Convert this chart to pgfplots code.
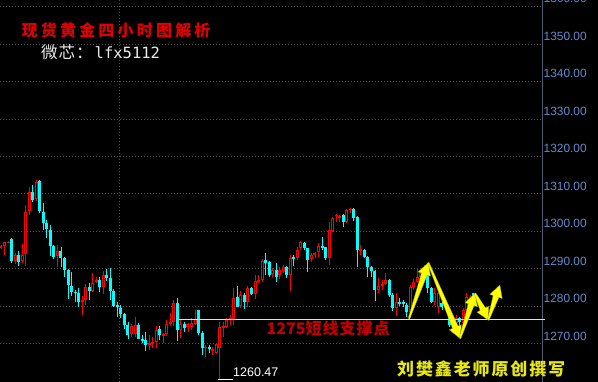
\documentclass[border=0pt]{standalone}
\usepackage{fontspec}
\setmainfont{Liberation Sans}
\newfontfamily\cjktitle{Noto Sans CJK SC}[LetterSpace=20]
\newfontfamily\cjkwx{Noto Sans CJK SC}[LetterSpace=6]
\newfontfamily\cjkauth{Noto Sans CJK SC}[LetterSpace=11]
\newfontfamily\cjksupp{Noto Sans CJK SC}[LetterSpace=6]
\newfontfamily\cjkdig{Noto Sans CJK SC}
\newfontfamily\monofont{DejaVu Sans Mono}
\usepackage{pgfplots}
\pgfplotsset{compat=1.18}
\usepackage{pgfplotstable}
\usetikzlibrary{calc}

\definecolor{upred}{RGB}{255,0,0}
\definecolor{dncyan}{RGB}{0,255,255}
\definecolor{gridgray}{RGB}{85,85,85}
\definecolor{ticklab}{RGB}{100,140,205}
\definecolor{titlered}{RGB}{225,0,0}
\definecolor{suppred}{RGB}{195,0,0}
\definecolor{ayellow}{RGB}{255,255,0}
\definecolor{authyellow}{RGB}{232,232,20}
\definecolor{axisgray}{RGB}{85,92,108}

\newcommand{\tarrow}[2]{%
  \coordinate (hh) at ($(#2)!12bp!(#1)$);
  \filldraw[fill=ayellow, draw=ayellow!65!black, line width=0.3bp]
    ($(#1)!0.8bp!90:(#2)$) -- ($(hh)!3bp!-90:(#1)$) -- ($(hh)!6.5bp!-90:(#1)$) -- (#2)
    -- ($(hh)!6.5bp!90:(#1)$) -- ($(hh)!3bp!90:(#1)$) -- ($(#1)!0.8bp!-90:(#2)$) -- cycle;}

% bullish (red) candles: index, open, high, low, close
\pgfplotstableread{
i o h l c
0 1295.6 1296.3 1295.4 1296.1
1 1296.2 1297.2 1293.7 1297.1
2 1297.0 1297.5 1296.8 1297.2
4 1292.2 1294.3 1291.2 1293.6
6 1292.2 1296.6 1291.5 1293.6
7 1293.9 1307.0 1290.8 1305.1
8 1305.3 1311.7 1304.4 1310.4
10 1308.6 1313.7 1308.2 1313.2
16 1293.5 1296.3 1290.6 1294.8
23 1281.2 1282.7 1277.7 1281.7
24 1281.7 1285.9 1280.3 1285.1
26 1284.2 1288.9 1283.9 1286.1
27 1286.6 1287.9 1286.1 1287.0
29 1285.2 1289.4 1283.3 1288.3
37 1272.6 1275.3 1271.9 1274.7
38 1272.6 1277.2 1271.9 1275.0
42 1269.8 1272.3 1268.3 1270.1
43 1270.1 1271.9 1268.8 1270.5
44 1270.5 1274.7 1268.9 1273.8
46 1272.3 1272.8 1270.1 1272.6
47 1272.6 1276.3 1272.1 1275.3
48 1275.4 1278.1 1274.6 1275.9
49 1275.9 1281.7 1274.7 1281.0
51 1273.7 1276.6 1271.4 1275.3
53 1274.6 1275.6 1273.2 1275.2
54 1274.6 1276.8 1273.7 1275.6
55 1275.4 1279.0 1275.0 1276.6
58 1268.8 1269.7 1266.5 1269.2
60 1268.1 1269.1 1267.0 1268.6
61 1267.4 1270.3 1267.3 1269.9
62 1268.8 1275.9 1260.47 1274.4
63 1274.4 1275.9 1271.9 1274.7
64 1274.5 1276.9 1274.2 1276.3
65 1276.3 1277.7 1275.0 1276.8
66 1276.5 1284.8 1275.0 1282.1
68 1280.1 1284.2 1279.5 1283.0
70 1281.2 1285.4 1279.9 1284.8
72 1283.3 1288.3 1281.9 1286.7
73 1286.7 1288.3 1286.1 1287.0
74 1287.0 1292.5 1286.6 1292.1
77 1288.5 1290.1 1287.7 1289.7
79 1288.3 1290.6 1287.2 1289.7
80 1289.4 1291.0 1288.8 1290.4
82 1288.3 1293.7 1284.2 1292.8
84 1293.0 1295.9 1292.3 1295.0
85 1295.5 1297.4 1295.0 1297.2
88 1292.6 1294.1 1291.9 1293.7
89 1293.7 1294.6 1292.8 1294.1
90 1294.6 1296.8 1293.2 1296.2
93 1292.8 1302.6 1291.0 1300.4
94 1300.1 1303.9 1299.9 1303.6
95 1304.1 1304.6 1302.6 1304.4
96 1303.7 1304.4 1302.6 1304.2
98 1302.6 1306.0 1302.1 1305.7
99 1305.7 1306.2 1304.8 1306.0
102 1294.9 1296.4 1293.7 1295.2
107 1284.3 1287.5 1283.5 1285.4
108 1285.5 1287.0 1284.3 1285.9
109 1285.9 1288.8 1285.7 1287.0
112 1279.5 1283.5 1277.4 1281.2
116 1278.5 1285.7 1276.8 1285.2
117 1285.2 1287.2 1284.3 1286.6
118 1286.6 1290.1 1286.1 1287.9
119 1287.9 1289.7 1287.0 1288.8
120 1288.8 1291.0 1288.3 1289.9
123 1281.2 1284.8 1280.3 1283.5
124 1279.9 1284.1 1278.1 1283.6
129 1275.5 1277.7 1274.1 1276.8
131 1275.5 1279.5 1275.0 1279.0
132 1279.0 1283.5 1278.5 1282.6
133 1281.9 1283.0 1281.7 1282.6
}\uptab

% bearish (cyan) candles: index, open, high, low, close
\pgfplotstableread{
i o h l c
3 1298.0 1298.2 1291.5 1292.2
5 1293.6 1294.8 1290.8 1291.9
9 1310.4 1312.4 1307.7 1308.4
11 1313.4 1313.6 1305.0 1305.4
12 1305.2 1307.5 1300.4 1302.3
13 1302.3 1303.0 1298.3 1300.6
14 1300.4 1301.7 1293.4 1296.1
15 1296.1 1296.3 1292.7 1293.2
17 1294.8 1295.7 1290.6 1293.0
18 1292.8 1293.1 1287.9 1289.7
19 1289.7 1289.9 1282.0 1285.7
20 1285.4 1289.1 1282.8 1283.9
21 1283.9 1284.3 1281.2 1283.6
22 1283.5 1284.9 1279.9 1281.2
25 1285.1 1286.1 1281.7 1284.2
28 1287.0 1287.7 1283.9 1285.2
30 1288.3 1290.0 1286.7 1287.6
31 1287.5 1290.3 1281.7 1284.2
32 1284.2 1284.6 1279.9 1280.1
33 1280.3 1281.2 1277.2 1279.9
34 1279.6 1280.3 1276.8 1277.9
35 1277.9 1278.1 1273.8 1275.0
36 1275.0 1275.9 1271.2 1272.3
39 1275.0 1275.4 1271.2 1271.3
40 1271.2 1272.3 1270.1 1270.8
41 1271.0 1273.0 1268.1 1269.7
45 1273.8 1274.7 1271.0 1272.2
50 1281.0 1282.1 1270.7 1273.7
52 1275.3 1275.9 1273.2 1274.1
56 1279.0 1279.1 1272.3 1272.8
57 1272.9 1273.4 1267.0 1268.8
59 1269.2 1269.7 1267.5 1268.6
67 1282.6 1285.4 1279.8 1279.9
69 1283.0 1283.5 1279.3 1281.2
71 1284.8 1285.2 1283.0 1283.3
75 1292.3 1294.3 1288.3 1291.6
76 1291.9 1292.2 1287.9 1288.3
78 1289.7 1291.6 1286.4 1287.7
81 1290.4 1290.7 1287.5 1288.3
83 1293.2 1293.7 1290.8 1292.8
86 1297.0 1297.2 1295.0 1295.5
87 1295.5 1295.6 1289.2 1292.3
91 1296.1 1298.6 1295.0 1295.6
92 1295.7 1295.9 1292.3 1292.8
97 1304.4 1304.6 1301.2 1302.6
100 1306.0 1306.2 1302.8 1303.5
101 1303.9 1304.1 1290.6 1295.0
103 1295.0 1295.2 1292.8 1293.2
104 1293.2 1293.4 1287.9 1290.6
105 1290.6 1290.7 1287.9 1289.4
106 1289.4 1289.6 1281.4 1284.3
110 1287.0 1287.2 1282.6 1283.0
111 1283.0 1283.5 1278.8 1279.5
113 1281.2 1282.1 1280.1 1280.8
114 1281.2 1281.7 1279.9 1280.8
115 1280.3 1280.8 1277.2 1278.5
121 1288.3 1288.8 1283.5 1284.8
122 1284.8 1285.2 1280.8 1281.2
125 1280.8 1281.7 1279.0 1279.9
126 1280.3 1280.9 1279.0 1279.7
127 1279.0 1279.5 1274.4 1275.0
128 1277.2 1277.7 1274.2 1275.5
130 1276.8 1277.2 1275.0 1275.9
134 1283.5 1283.6 1281.2 1282.1
}\dntab

\begin{document}
\begin{tikzpicture}
\fill[black] (0,0) rectangle (598bp,382bp);
\begin{axis}[
  at={(0,0)}, anchor=south west,
  scale only axis, width=542bp, height=382bp,
  xmin=-0.28, xmax=153.35, ymin=1259.78, ymax=1361.75,
  axis line style={draw=none},
  xtick={33.45}, xticklabels={}, xmajorgrids,
  ytick={1270,1280,...,1360}, ymajorgrids,
  yticklabel pos=right,
  major tick length=0pt,
  grid style={draw=gridgray, line width=0.8bp, dash pattern=on 1bp off 2bp},
  /pgf/number format/fixed,
  /pgf/number format/fixed zerofill,
  /pgf/number format/precision=2,
  /pgf/number format/1000 sep={},
  /pgf/number format/assume math mode=true,
  yticklabel style={font=\fontsize{11.9bp}{12bp}\selectfont, text=ticklab, anchor=west, inner sep=0pt, xshift=1.5bp, yshift=7.8bp},
  clip=false,
]
% right axis line
\draw[axisgray, line width=1bp] (rel axis cs:1,0) -- (rel axis cs:1,1);

% red candles: wicks, hollow bodies
\addplot[draw=none, mark=none, error bars/.cd, y dir=plus, y explicit, error mark=none,
  error bar style={draw=upred, line width=0.9bp}]
  table[x=i, y=l, y error expr=\thisrow{h}-\thisrow{l}] {\uptab};
\addplot[draw=none, mark=none, error bars/.cd, y dir=both, y explicit, error mark=none,
  error bar style={draw=upred, line width=3bp}]
  table[x=i, y expr=(\thisrow{o}+\thisrow{c})/2, y error expr={max(abs(\thisrow{c}-\thisrow{o})/2,0.15)}] {\uptab};
\addplot[draw=none, mark=none, error bars/.cd, y dir=both, y explicit, error mark=none,
  error bar style={draw=black, line width=1bp}]
  table[x=i, y expr=(\thisrow{o}+\thisrow{c})/2, y error expr={max(abs(\thisrow{c}-\thisrow{o})/2-0.27,0)}] {\uptab};
% cyan candles: wicks, filled bodies
\addplot[draw=none, mark=none, error bars/.cd, y dir=plus, y explicit, error mark=none,
  error bar style={draw=dncyan, line width=0.9bp}]
  table[x=i, y=l, y error expr=\thisrow{h}-\thisrow{l}] {\dntab};
\addplot[draw=none, mark=none, error bars/.cd, y dir=both, y explicit, error mark=none,
  error bar style={draw=dncyan, line width=3bp}]
  table[x=i, y expr=(\thisrow{o}+\thisrow{c})/2, y error expr={max(abs(\thisrow{c}-\thisrow{o})/2,0.15)}] {\dntab};

% support line and low marker
\draw[ayellow, line width=1.4bp] (axis cs:50.2,1276.51) -- (axis cs:154.2,1276.51);
\draw[white, line width=1bp] (axis cs:61.6,1260.47) -- (axis cs:65.7,1260.47);

\coordinate (p0) at (axis cs:115.65,1276.73);
\coordinate (p1) at (axis cs:121.1,1291.62);
\coordinate (p2) at (axis cs:130.1,1271.44);
\coordinate (p3) at (axis cs:134.35,1283.45);
\coordinate (p4) at (axis cs:138.1,1276.33);
\coordinate (p5) at (axis cs:141.4,1285.67);
\end{axis}

\tarrow{p0}{p1}
\tarrow{p1}{p2}
\tarrow{p2}{p3}
\tarrow{p3}{p4}
\tarrow{p4}{p5}

\node[anchor=base west, inner sep=0pt, text=titlered] at (21.5bp,345bp)
  {\fontsize{16bp}{18bp}\cjktitle\bfseries 现货黄金四小时图解析};
\node[anchor=base west, inner sep=0pt, text={rgb,255:red,235;green,235;blue,235}] at (41bp,323bp)
  {\fontsize{16.5bp}{18bp}\cjkwx 微芯：\hspace{2bp}\fontsize{15.5bp}{17bp}\monofont lfx5112};
\node[anchor=base west, inner sep=0pt, text=suppred] at (266.5bp,47bp)
  {\fontsize{16bp}{18bp}\cjkdig\bfseries 1275\cjksupp\bfseries 短线支撑点};
\node[anchor=base west, inner sep=0pt, text=white] at (233bp,6bp)
  {\fontsize{12.5bp}{14bp}\selectfont 1260.47};
\node[anchor=base west, inner sep=0pt, text=authyellow] at (397bp,7bp)
  {\fontsize{17bp}{19bp}\cjkauth\bfseries 刘樊鑫老师原创撰写};

\pgfresetboundingbox
\useasboundingbox (0,0) rectangle (598bp,382bp);
\end{tikzpicture}
\end{document}
